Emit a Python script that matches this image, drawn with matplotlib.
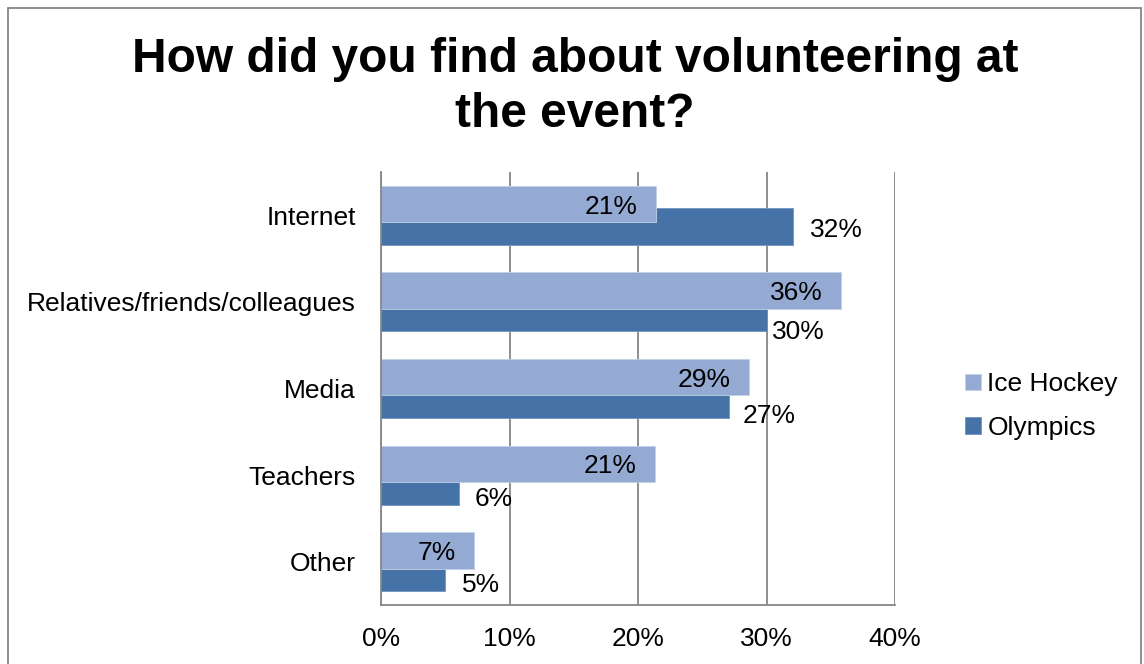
import matplotlib
matplotlib.use("Agg")
import matplotlib.pyplot as plt
import numpy as np
from matplotlib.patches import Rectangle

plt.rcParams["font.family"] = ["Liberation Sans", "DejaVu Sans"]

# ── Survey data ───────────────────────────────────────────────────────────────
categories = ["Internet", "Relatives/friends/colleagues", "Media", "Teachers", "Other"]
ice_hockey = [21.4, 35.8, 28.6, 21.3, 7.2]
olympics = [32.1, 30.0, 27.1, 6.1, 5.0]
x_ticks = [0, 10, 20, 30, 40]

COL_IH = "#94AAD2"
COL_OLY = "#4573A8"
GRID = "#868686"

# hand-placed label nudges for the Olympics values (points: right, down)
oly_label_dx = [12, 4, 10, 11, 12]
oly_label_dy = [1, 12, 10, 7, 7]

fig = plt.figure(figsize=(11.44, 6.64), dpi=100)
ax = fig.add_axes([381 / 1144, 1 - 605 / 664, 514 / 1144, 433 / 664])

y = np.arange(len(categories))
h = 0.42
off = 0.13
ax.barh(y + off, olympics, height=h, color=COL_OLY, edgecolor="#6f93bf",
        linewidth=0.6, zorder=2, label="Olympics")
ax.barh(y - off, ice_hockey, height=h, color=COL_IH, edgecolor="#c3d0e8",
        linewidth=0.6, zorder=3, label="Ice Hockey")

for i, v in enumerate(ice_hockey):
    ax.annotate(f"{v:.0f}%", (v, y[i] - off), xytext=(-13, 0),
                textcoords="offset points", ha="right", va="center_baseline",
                fontsize=19, zorder=4)
for i, v in enumerate(olympics):
    ax.annotate(f"{v:.0f}%", (v, y[i] + off),
                xytext=(oly_label_dx[i], -oly_label_dy[i]),
                textcoords="offset points", ha="left", va="center_baseline",
                fontsize=19, zorder=4)

ax.set_xlim(0, 40)
ax.set_ylim(len(categories) - 0.5, -0.5)
ax.set_xticks(x_ticks)
ax.set_xticklabels([f"{t}%" for t in x_ticks])
ax.set_yticks(y)
ax.set_yticklabels(categories)
ax.tick_params(axis="both", length=0, labelsize=19)
ax.tick_params(axis="x", pad=16)
ax.tick_params(axis="y", pad=18)
ax.xaxis.grid(True, color=GRID, linewidth=1.3, zorder=1)
ax.set_axisbelow(True)
for side in ["top", "right"]:
    ax.spines[side].set_visible(False)
for side in ["left", "bottom"]:
    ax.spines[side].set_color(GRID)
    ax.spines[side].set_linewidth(1.3)
    ax.spines[side].set_zorder(5)

fig.text(575 / 1144, 1 - 87 / 664, "How did you find about volunteering at\nthe event?",
         ha="center", va="center", fontsize=34.5, fontweight="bold", linespacing=1.27)

handles, labels = ax.get_legend_handles_labels()
fig.legend(handles[::-1], labels[::-1], loc="center left",
           bbox_to_anchor=(947 / 1144, 1 - 406 / 664), frameon=False,
           fontsize=19, handlelength=0.58, handleheight=0.58,
           handletextpad=0.25, labelspacing=0.75, borderpad=0.2)

# chart frame
fig.patches.append(Rectangle((8 / 1144, -0.05), 1133 / 1144, 1.05 - 8 / 664,
                             transform=fig.transFigure, fill=False,
                             edgecolor=GRID, linewidth=1.3))

fig.savefig("out.png", dpi=100)
